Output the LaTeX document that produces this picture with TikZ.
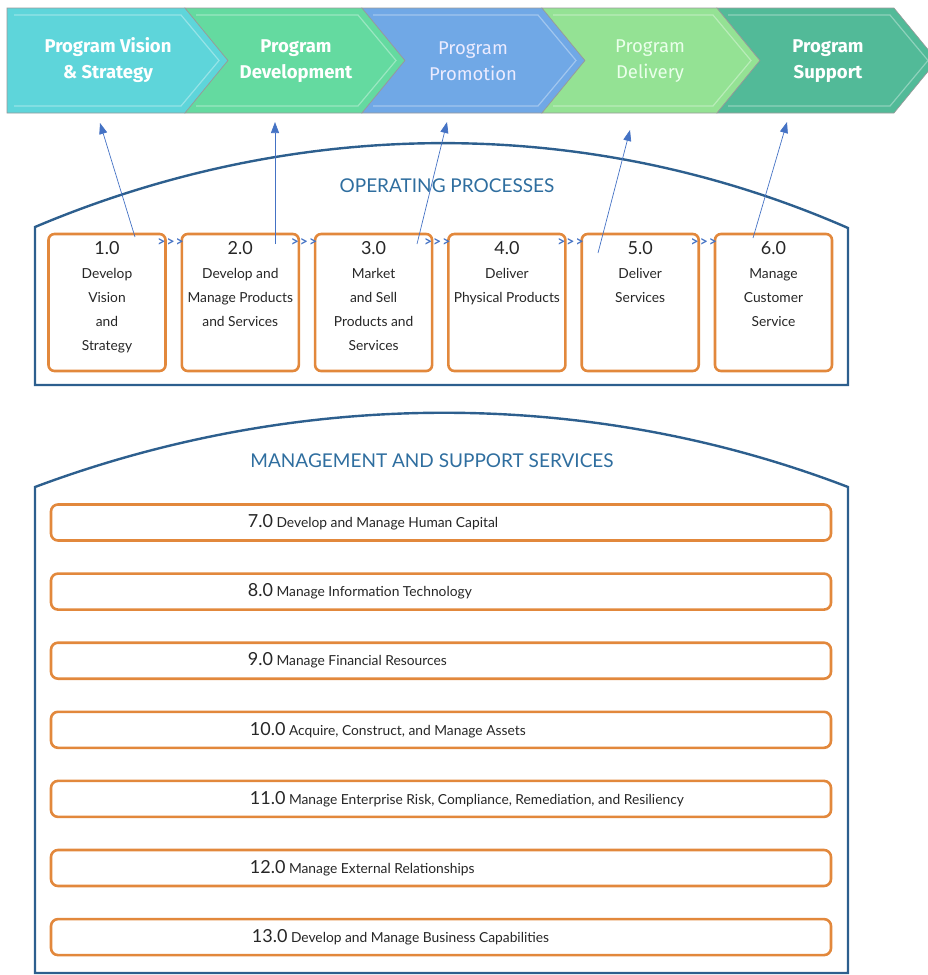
\documentclass[tikz,border=0pt]{standalone}
\usepackage{fontspec}
\setmainfont{Lato}
\newfontfamily\chevfont{Fira Sans}
\usetikzlibrary{arrows.meta,positioning,calc}
\definecolor{ArchBlue}{RGB}{45,95,142}
\definecolor{TitleBlue}{RGB}{47,110,159}
\definecolor{BoxOrange}{RGB}{226,136,60}
\definecolor{LinkBlue}{RGB}{68,114,196}
\definecolor{ChevAqua}{RGB}{94,213,218}
\definecolor{ChevGreen}{RGB}{100,218,160}
\definecolor{ChevBlue}{RGB}{112,168,230}
\definecolor{ChevLime}{RGB}{148,226,148}
\definecolor{ChevTeal}{RGB}{82,186,152}
\newcommand\numsize{\fontsize{18}{18}\selectfont}

\begin{document}
\begin{tikzpicture}[x=1pt,y=-1pt,
  chev/.style={draw=black!40,line width=0.6pt,line join=miter},
  bevel/.style={draw=white,opacity=0.35,line width=1.2pt},
  chevtext/.style={font=\chevfont\fontsize{18.5}{26}\selectfont\bfseries,text=white,align=center},
  chevlight/.style={font=\chevfont\fontsize{18.5}{26}\selectfont,align=center},
  arch/.style={draw=ArchBlue,line width=2.4pt,line join=miter},
  title/.style={font=\fontsize{19}{19}\selectfont,text=TitleBlue},
  proc/.style={draw=BoxOrange,line width=2.6pt,rounded corners=6pt,minimum width=117pt,minimum height=137pt,inner sep=0pt},
  proctext/.style={font=\fontsize{13.8}{24}\selectfont,align=center,text=black!85,inner sep=0pt},
  svc/.style={draw=BoxOrange,line width=2.6pt,rounded corners=7pt,minimum width=780pt,minimum height=36pt,inner sep=0pt},
  svctext/.style={font=\fontsize{13.8}{14}\selectfont,text=black!85,inner sep=0pt},
  link/.style={draw=LinkBlue,line width=0.7pt,-{Triangle[length=11pt,width=8pt]}},
  seq/.style={font=\bfseries\fontsize{14}{14}\selectfont,text=LinkBlue,inner sep=0pt}
]
  \useasboundingbox (0,0) rectangle (928,975);
  \clip (0,0) rectangle (928,975);

  % value chain chevrons
  \fill[ChevAqua,chev] (7,8) -- (185,8) -- (228,60.5) -- (185,113) -- (7,113) -- cycle;
  \fill[ChevGreen,chev] (185,8) -- (362,8) -- (405,60.5) -- (362,113) -- (185,113) -- (228,60.5) -- cycle;
  \fill[ChevBlue,chev] (362,8) -- (542,8) -- (585,60.5) -- (542,113) -- (362,113) -- (405,60.5) -- cycle;
  \fill[ChevLime,chev] (542,8) -- (717,8) -- (760,60.5) -- (717,113) -- (542,113) -- (585,60.5) -- cycle;
  \fill[ChevTeal,chev] (717,8) -- (894,8) -- (937,60.5) -- (894,113) -- (717,113) -- (760,60.5) -- cycle;
  \draw[bevel] (14,15) -- (181,15) -- (219,60.5) -- (181,106) -- (14,106);
  \draw[bevel] (196,15) -- (358,15) -- (396,60.5) -- (358,106) -- (196,106);
  \draw[bevel] (373,15) -- (538,15) -- (576,60.5) -- (538,106) -- (373,106);
  \draw[bevel] (553,15) -- (713,15) -- (751,60.5) -- (713,106) -- (553,106);
  \draw[bevel] (728,15) -- (890,15) -- (928,60.5) -- (890,106) -- (728,106);

  \node[chevtext] (v1) at (108,60.5) {Program Vision\\\& Strategy};
  \node[chevtext] (v2) at (296,61) {Program\\Development};
  \node[chevlight,text=white!92!blue] (v3) at (473,61) {Program\\Promotion};
  \node[chevlight,text=white!92!green] (v4) at (650,61) {Program\\Delivery};
  \node[chevtext] (v5) at (828,61) {Program\\Support};

  % operating processes
  \draw[arch] (35,385) -- (35,227) .. controls (300,115) and (590,115) .. (848,228) -- (848,385) -- cycle;
  \node[title] (optitle) at (447,186) {OPERATING PROCESSES};

  \node[proc] (p1) at (107,302.5) {};
  \node[proc,right=13.7pt of p1] (p2) {};
  \node[proc,right=13.7pt of p2] (p3) {};
  \node[proc,right=13.7pt of p3] (p4) {};
  \node[proc,right=13.7pt of p4] (p5) {};
  \node[proc,right=13.7pt of p5] (p6) {};

  \node[proctext,below=9pt of p1.north] (p1t) {{\numsize 1.0}\\Develop\\Vision\\and\\Strategy};
  \node[proctext,below=9pt of p2.north] (p2t) {{\numsize 2.0}\\Develop and\\Manage Products\\and Services};
  \node[proctext,below=9pt of p3.north] (p3t) {{\numsize 3.0}\\Market\\and Sell\\Products and\\Services};
  \node[proctext,below=9pt of p4.north] (p4t) {{\numsize 4.0}\\Deliver\\Physical Products};
  \node[proctext,below=9pt of p5.north] (p5t) {{\numsize 5.0}\\Deliver\\Services};
  \node[proctext,below=9pt of p6.north] (p6t) {{\numsize 6.0}\\Manage\\Customer\\Service};

  \node[seq] (q12) at ($(p1.north east)!0.5!(p2.north west)+(-3,10)$) {>\kern1pt>\kern1pt>};
  \node[seq] (q23) at ($(p2.north east)!0.5!(p3.north west)+(-3,10)$) {>\kern1pt>\kern1pt>};
  \node[seq] (q34) at ($(p3.north east)!0.5!(p4.north west)+(-3,10)$) {>\kern1pt>\kern1pt>};
  \node[seq] (q45) at ($(p4.north east)!0.5!(p5.north west)+(-3,10)$) {>\kern1pt>\kern1pt>};
  \node[seq] (q56) at ($(p5.north east)!0.5!(p6.north west)+(-3,10)$) {>\kern1pt>\kern1pt>};

  % management and support services
  \draw[arch] (35,973) -- (35,487) .. controls (300,388) and (590,388) .. (848,487) -- (848,973) -- cycle;
  \node[title] (mstitle) at (432,461) {MANAGEMENT AND SUPPORT SERVICES};

  \node[svc] (s7) at (441,522.5) {};
  \node[svc,below=30.5pt of s7] (s8) {};
  \node[svc,below=30.5pt of s8] (s9) {};
  \node[svc,below=30.5pt of s9] (s10) {};
  \node[svc,below=30.5pt of s10] (s11) {};
  \node[svc,below=30.5pt of s11] (s12) {};
  \node[svc,below=30.5pt of s12] (s13) {};

  \node[svctext,right=198pt of s7.west] (s7t) {{\numsize 7.0} Develop and Manage Human Capital};
  \node[svctext,right=198pt of s8.west] (s8t) {{\numsize 8.0} Manage Information Technology};
  \node[svctext,right=198pt of s9.west] (s9t) {{\numsize 9.0} Manage Financial Resources};
  \node[svctext,right=200pt of s10.west] (s10t) {{\numsize 10.0} Acquire, Construct, and Manage Assets};
  \node[svctext,right=200pt of s11.west] (s11t) {{\numsize 11.0} Manage Enterprise Risk, Compliance, Remediation, and Resiliency};
  \node[svctext,right=200pt of s12.west] (s12t) {{\numsize 12.0} Manage External Relationships};
  \node[svctext,right=202pt of s13.west] (s13t) {{\numsize 13.0} Develop and Manage Business Capabilities};

  % links up to the value chain
  \coordinate (a1) at (135,237);
  \coordinate (a2) at (275,244);
  \coordinate (a3) at (417,244);
  \coordinate (a4) at (598,253);
  \coordinate (a5) at (753,238);
  \coordinate (g1) at (100,123);
  \coordinate (g2) at (275,122);
  \coordinate (g3) at (447,122);
  \coordinate (g4) at (630,130);
  \coordinate (g5) at (787,122);
  \draw[link] (a1) -- (g1);
  \draw[link] (a2) -- (g2);
  \draw[link] (a3) -- (g3);
  \draw[link] (a4) -- (g4);
  \draw[link] (a5) -- (g5);
\end{tikzpicture}
\end{document}
